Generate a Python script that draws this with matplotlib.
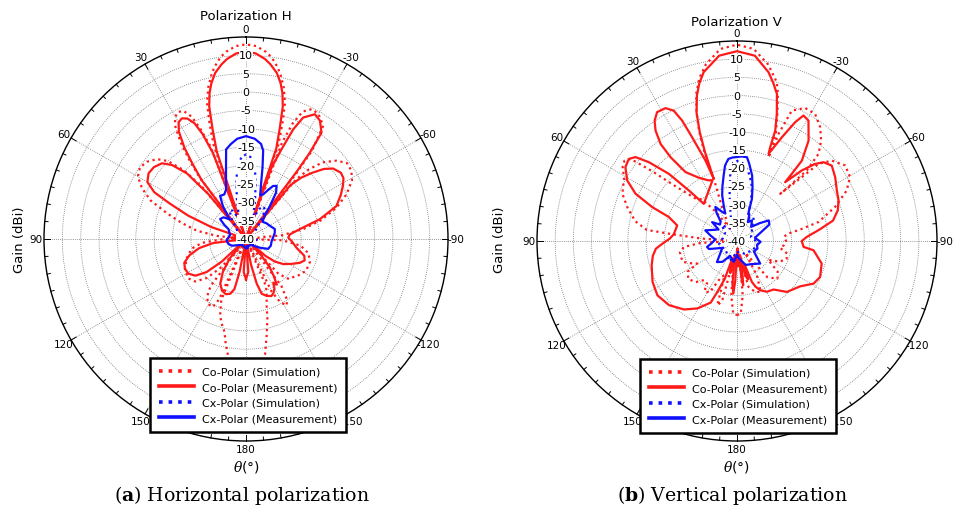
import numpy as np
import matplotlib
matplotlib.use("Agg")
import matplotlib.pyplot as plt
from matplotlib.lines import Line2D

plt.rcParams['font.family'] = ['DejaVu Sans']
plt.rcParams['axes.unicode_minus'] = False
plt.rcParams['mathtext.fontset'] = 'custom'
plt.rcParams['mathtext.it'] = 'DejaVu Serif:italic'
plt.rcParams['mathtext.bf'] = 'DejaVu Serif:bold'
plt.rcParams['mathtext.rm'] = 'DejaVu Serif'

# ---------------- data (angle in degrees, gain in dBi) ----------------
radial_ticks = [-40, -35, -30, -25, -20, -15, -10, -5, 0, 5, 10]
angle_ticks = [0, 30, 60, 90, 120, 150, 180, 210, 240, 270, 300, 330]
angle_labels = ['0', '30', '60', '90', '120', '150', '180', '-150', '-120', '-90', '-60', '-30']
legend_labels = ['Co-Polar (Simulation)', 'Co-Polar (Measurement)',
                 'Cx-Polar (Simulation)', 'Cx-Polar (Measurement)']

# ---- Polarization H ----
h_co_meas_theta = [-180, -176, -172, -169, -166.5, -164, -160, -156, -153, -150, -148, -146, -143, -140, -137, -134,
                   -131, -128, -124, -119, -114, -110, -106, -100, -93, -88, -84, -79.5, -75, -70, -65, -61, -58, -55,
                   -51, -48, -45, -42, -39.5, -38, -37, -36.5, -35.4, -32, -28.9, -25.2, -23.3, -21.6, -19.7, -19.2,
                   -18.5, -17, -15.5, -14, -12.5, -10.5, -8, -6, -3, 0, 3, 6, 8, 10.5, 12.5, 14, 15.5, 17, 18.5, 19.5,
                   21, 22.5, 24, 26, 28, 30, 32, 34, 35.5, 37, 38.5, 40, 42, 45, 48, 52, 56, 60, 63, 65, 68, 71, 74,
                   80, 85, 90, 95, 97, 101, 106, 111, 116, 121, 126, 130, 133, 136, 140, 145, 150, 155, 160, 164, 167,
                   169, 171.5, 176, 180]
h_co_meas_gain = [-29, -31, -40, -33, -27.5, -24.5, -23.5, -23, -23.5, -24.5, -26, -25, -27.5, -30, -34, -40,
                  -33, -30, -27.8, -26, -24, -23, -23.5, -26, -27.5, -28.5, -28, -25, -19.2, -13.8, -11.5, -9.8, -8.7,
                  -8.5, -9.5, -11.5, -14.5, -17.5, -21, -40, -17, -11, -4.5, -2, -1.2, -3.45, -7.5, -13.7, -19.3, -40,
                  -14, -8.6, -2.5, 1, 3.5, 6, 8, 9.3, 10.6, 11, 10.6, 9.3, 8, 6, 3.5, 1, -2.5, -9, -15, -40,
                  -15, -9, -5.5, -3.5, -2.8, -3.3, -5.5, -10, -15, -20, -40, -24, -16, -11.5, -9.2, -8.2, -8, -9, -12,
                  -17, -23, -30, -40, -37, -36, -38, -40, -31, -27, -24, -22, -21.5, -21.7, -23, -26, -31, -40, -33,
                  -29, -26, -24.5, -24, -24.5, -26, -31, -40, -31, -29]

h_co_sim_theta = [-180, -177, -174, -170.6, -168, -165, -162.8, -160, -157, -155.5, -154, -151.6, -148.6, -146, -143,
                  -140.5, -137, -133, -129, -124, -118, -110, -103, -97, -92, -87, -84, -80, -76, -71, -66, -61, -57,
                  -53, -49, -45, -42, -40, -38.5, -37.5, -36.8, -34.3, -30, -26.8, -24, -22, -20.5, -19.8, -19, -17.5,
                  -16, -14, -12, -10.5, -8, -6, -3, 0, 3, 6, 8, 10.5, 12, 14, 16, 17.5, 19, 19.8, 21, 22.5, 24, 26,
                  28, 30, 32, 34, 35.5, 37, 38.5, 40, 42, 45, 48, 52, 56, 60, 64, 68, 72, 76, 80.4, 84, 87, 90, 95,
                  100, 108, 116, 124, 130, 135, 139, 141, 143, 146, 150, 154, 156, 156.8, 158, 161.3, 164, 167, 169,
                  171.3, 175, 178, 180]
h_co_sim_gain = [-3, -3.5, -5, -8.2, -13, -17.5, -21, -23.5, -26, -40, -24, -20.5, -18.8, -20, -24,
                 -40, -27, -24, -23.5, -22.5, -21.5, -21.5, -22.5, -25, -30, -40, -30, -24, -19, -14, -10, -7, -5.8,
                 -5.6, -7.5, -10.5, -14.5, -19, -40, -18, -10, -2.7, -0.6, -0.4, -2, -6, -12, -40, -13, -7,
                 -1.5, 2.5, 5.5, 7.5, 10, 11.3, 12.6, 13, 12.6, 11.3, 10, 7.5, 5.5, 2.5, -1.5, -7, -13, -40, -13,
                 -7.5, -3.5, -1.2, -0.8, -1.5, -3.5, -8, -13, -19, -40, -22, -15, -10, -7.5, -5.8, -5.2, -6, -8.5,
                 -12, -17.4, -22, -26.4, -32, -40, -34, -28, -25, -23, -21.5, -20.9, -22, -25, -30, -40, -24, -21,
                 -19.5, -19.4, -22, -40, -22, -18, -16, -14, -11, -7.8, -5, -3.5, -3]

h_cx_meas_theta = [-180, -170, -155, -140, -130, -122, -114, -105, -95, -85, -78, -71, -62, -52, -44, -39, -36, -33,
                   -30, -27, -24, -21, -18, -15, -13, -11, -9, -5, 0, 5, 9, 12.5, 15.8, 19, 22, 26, 31, 35, 40, 46,
                   52.4, 57, 60.5, 75, 95, 105, 115, 125, 140, 160, 180]
h_cx_meas_gain = [-37.5, -37.5, -38, -38, -37, -35.5, -33.4, -33, -33, -32.5, -32, -31.7, -32.5, -33, -33.5, -32, -29,
                  -25, -23.3, -23.8, -25.5, -27, -27.5, -24, -20, -15.5, -13.8, -12.6, -12, -12.6, -13.8, -15, -20,
                  -23.3, -25.5, -26.5, -26.3, -29, -33, -31.5, -31.1, -33, -34.5, -35.5, -34.7, -35, -35.7, -37, -38,
                  -38, -37.5]

h_cx_sim_theta = [-180, -150, -120, -90, -60, -45, -38, -33, -28, -24, -20, -16, -13, -10, -8, -6, -3, 0, 3, 6, 8, 10,
                  13, 16, 20, 25, 30, 35, 42, 55, 90, 130, 180]
h_cx_sim_gain = [-38, -38, -37.5, -37, -37.5, -36, -33, -30.5, -30, -31, -33.5, -32.5, -29, -25, -22, -19.5, -17.6,
                 -17, -17.6, -19.5, -22, -25, -29, -32.5, -34, -31.5, -31, -33, -36, -37.5, -37.5, -38, -38]

# ---- Polarization V ----
v_co_meas_theta = [-180, -178, -176, -173, -172, -170.5, -168, -166, -164, -162, -160, -158, -154.7, -149.5, -143,
                   -135.6, -125.6, -119.1, -113.4, -104.9, -96.9, -95.1, -90, -86.7, -82, -78, -73, -68, -63, -57,
                   -51.5, -47.7, -45.4, -42.6, -39.3, -39.2, -38.9, -35.5, -30.7, -27.9, -26.1, -23.4, -19.9, -19.5,
                   -19.1, -17.4, -15.2, -13, -10.6, -5.5, 0, 5.5, 11.2, 13.5, 15.4, 17.5, 18.9, 19.8, 20.5, 21.4, 23.4,
                   24.5, 25.9, 28.3, 31.8, 34.4, 36.4, 38.2, 38.4, 36.8, 31.5, 25.5, 22, 41.8, 43.6, 45.4, 48.2, 50.4,
                   52.8, 56.5, 61.1, 65, 68.2, 70.6, 75.4, 80, 84, 88, 92, 95.4, 100, 105.9, 115.8, 124.3, 133.4, 142.3,
                   149.6, 156.9, 158.9, 162, 165, 168, 171, 174, 176, 177.5, 180]
v_co_meas_gain = [-37, -33, -38, -29, -27.7, -31, -36, -30, -29, -33, -28, -26.5, -25, -23.8, -23.3,
                  -20.4, -18.6, -15.9, -15.1, -15.9, -18.8, -21.6, -22.2, -20.8, -17, -13, -11, -9.9, -9.2, -7.8,
                  -6.7, -7.8, -9.8, -13.6, -19.1, -16.1, -11.6, -6.1, -1.5, -0.95, -3.6, -8.9, -14.5, -12.6,
                  -7.85, -3.4, 1.9, 4.5, 7.2, 11.2, 12.2, 11.2, 7.3, 4.5, 1.5, -3, -8.4, -14, -21.7, -16.2, -8.9,
                  -3.6, -0.15, 1.5, 1.7, 0.1, -2.25, -6, -10.6, -16.3, -19.5, -21.5, -22, -26.3, -20.8, -13.7, -7.5,
                  -3.8, -2.65, -3.2, -5.5, -9.2, -14.9, -20.1, -23, -22.8, -22.5, -21.5, -19.5, -17.6, -16.5, -15.6,
                  -14.2, -13.5, -14.3, -16.2, -18.5, -21.6, -25, -29, -35, -31, -36, -28, -25.5, -29, -37]

v_co_sim_theta = [-180, -177, -174, -170, -166, -160, -155, -150, -145, -140, -133, -127, -121, -116, -110, -104, -99,
                  -95, -90, -85, -82, -79.5, -76.9, -70.9, -65.3, -60.5, -55.1, -49.7, -46.6, -45.4, -42.5, -43.8,
                  -44.7, -43.1, -40, -36.2, -31.6, -27.1, -22.8, -21.2, -20.6, -19.7, -17.5, -15.5, -14.1, -10, -5, 0,
                  5, 10, 13, 15.5, 17.5, 19, 20, 20.5, 24, 30, 36, 40, 44, 48.5, 50.5, 52.3, 54.5, 57, 61, 67.6, 73,
                  79, 83, 84, 86, 88, 93, 96.4, 101, 106, 111, 116, 119.5, 122, 128, 135, 140, 144.9, 147, 152, 156,
                  160, 163, 166, 170, 174, 177, 180]
v_co_sim_gain = [-19.6, -20, -25, -36, -27, -25, -24.6, -29, -36, -27, -24.8, -26, -30, -27, -25.5, -25.8, -28,
                 -27, -26.5, -27, -26, -22, -17, -11.5, -6.8, -4.3, -3.7, -5.8, -9.1, -15, -22.4, -18.2,
                 -12.7, -7.2, -4, -1.25, 1.0, 1.1, -1.1, -8.4, -15.5, -8.2, -3, 2, 5, 9.3, 13, 14,
                 13, 9.3, 6, 2, -3, -8, -13, -22, -30, -36, -30, -25, -24, -17, -10, -3.1, -2, -2.5, -4.5, -5.9, -8.5,
                 -11.5, -15, -22, -30, -40, -30, -25.3, -24, -24, -24, -26, -27.4, -24, -23, -24, -26, -25.7, -23.5,
                 -24, -29, -30, -21.5, -23, -35, -25, -20, -19.6]

v_cx_meas_theta = [-180, -172, -160, -148, -134.2, -122, -110, -102, -92, -80, -70, -63, -57, -52, -45, -36, -30, -25,
                   -21.9, -19.5, -16, -13, -9, -6.8, -3, 0, 3, 6, 9, 11.5, 15, 18, 21, 23, 27, 32.5, 36, 40, 46, 52.8,
                   58, 64, 71.4, 78, 86, 95, 101.3, 106, 115, 125, 136.4, 145, 155, 163, 171, 180]
v_cx_meas_gain = [-36, -35, -33, -32.5, -31.1, -34.5, -34, -34.4, -33.5, -35, -33, -30, -29.6, -32, -34.5, -33, -34,
                  -32, -31.4, -27.7, -24.5, -21.5, -18.5, -16.8, -16.7, -16.9, -17, -17.3, -19, -21.6, -24.5, -26.8,
                  -30, -31.8, -31, -28.9, -30.5, -33, -33.5, -31.4, -34, -33, -30.8, -32.5, -34, -33, -31.6, -32,
                  -35.5, -34.5, -32, -33, -35.5, -35, -34.2, -36]

v_cx_sim_theta = [-180, -150, -120, -95, -75, -55, -45, -35.5, -28, -24, -20, -16, -13, -9, -4, 0, 3, 6, 9, 12, 18, 30,
                  43.7, 55, 80, 100, 130, 160, 180]
v_cx_sim_gain = [-37, -36, -35, -34, -36, -35, -34, -32.1, -33, -33, -29, -25, -23, -20.5, -18.5, -18, -18.5, -22,
                 -27, -31, -35, -36, -34, -36, -36, -35, -36, -34, -37]

# ---------------- figure ----------------
W, H = 967, 510
fig = plt.figure(figsize=(W / 100, H / 100), dpi=100)
RED, BLUE = '#ff1a1a', '#1010ff'
R_MIN, R_MAX = -40, 15


def make_axes(cx, cy, rad):
    ax = fig.add_axes([(cx - rad) / W, (H - cy - rad) / H, 2 * rad / W, 2 * rad / H], projection='polar')
    ax.set_theta_zero_location('N')
    ax.set_theta_direction(1)
    ax.set_ylim(R_MIN, R_MAX)
    ax.set_yticks(radial_ticks)
    ax.set_yticklabels([])
    ax.set_xticks(np.radians(angle_ticks))
    ax.set_xticklabels(angle_labels, fontsize=7.5)
    ax.tick_params(axis='x', which='major', length=0, pad=-1.0)
    ax.grid(True, color='0.45', linestyle=(0, (1, 1.5)), linewidth=0.6)
    ax.spines['polar'].set_linewidth(1.0)
    # tick marks on the outer circle (decoration)
    for a in np.arange(0, 360, 5):
        inner = R_MAX - (1.6 if a % 30 == 0 else 0.9)
        ax.plot([np.radians(a)] * 2, [inner, R_MAX], color='black', linewidth=0.7, zorder=4, clip_on=False)
    for t in radial_ticks:
        ax.text(0, t, str(t), ha='center', va='center', fontsize=8, zorder=6,
                bbox=dict(facecolor='white', edgecolor='none', pad=0.3))
    ax.set_ylim(R_MIN, R_MAX)
    return ax


def draw(ax, data):
    lines = []
    for (th, g, color, ls) in data:
        ln, = ax.plot(np.radians(th), g, color=color, linestyle=ls, linewidth=1.6, zorder=3)
        lines.append(ln)
    return lines


ax1 = make_axes(246, 240, 202)
lines1 = draw(ax1, [(h_co_sim_theta, h_co_sim_gain, RED, ':'),
                    (h_co_meas_theta, h_co_meas_gain, RED, '-'),
                    (h_cx_sim_theta, h_cx_sim_gain, BLUE, ':'),
                    (h_cx_meas_theta, h_cx_meas_gain, BLUE, '-')])

ax2 = make_axes(737, 242, 200)
lines2 = draw(ax2, [(v_co_sim_theta, v_co_sim_gain, RED, ':'),
                    (v_co_meas_theta, v_co_meas_gain, RED, '-'),
                    (v_cx_sim_theta, v_cx_sim_gain, BLUE, ':'),
                    (v_cx_meas_theta, v_cx_meas_gain, BLUE, '-')])


def add_legend(ax, lines, cx, cy):
    handles = [Line2D([], [], color=l.get_color(), linestyle=l.get_linestyle(), linewidth=2.6) for l in lines]
    leg = ax.legend(handles, legend_labels, loc='center', bbox_to_anchor=(cx / W, 1 - cy / H),
                    bbox_transform=fig.transFigure, fontsize=8, frameon=True, fancybox=False,
                    edgecolor='black', framealpha=1, handlelength=3.2, handletextpad=0.7,
                    labelspacing=0.5, borderpad=0.75)
    leg.get_frame().set_linewidth(1.8)
    leg.set_zorder(20)


add_legend(ax1, lines1, 248, 396)
add_legend(ax2, lines2, 738, 397)

for cx, title, ty, cap in [(246, 'Polarization H', 17, r'($\mathbf{a}$) Horizontal polarization'),
                           (736, 'Polarization V', 22, r'($\mathbf{b}$) Vertical polarization')]:
    fig.text(cx / W, 1 - ty / H, title, ha='center', va='center', fontsize=9.5)
    fig.text(cx / W, 1 - 467 / H, r'$\theta$(°)', ha='center', va='center', fontsize=10)
    fig.text((cx - 4) / W, 1 - 496 / H, cap, ha='center', va='center', fontsize=13.6, family='DejaVu Serif')

fig.text(20 / W, 1 - 240 / H, 'Gain (dBi)', rotation=90, ha='center', va='center', fontsize=9.5)
fig.text(500 / W, 1 - 240 / H, 'Gain (dBi)', rotation=90, ha='center', va='center', fontsize=9.5)

fig.savefig('out.png', dpi=100, facecolor='white')
